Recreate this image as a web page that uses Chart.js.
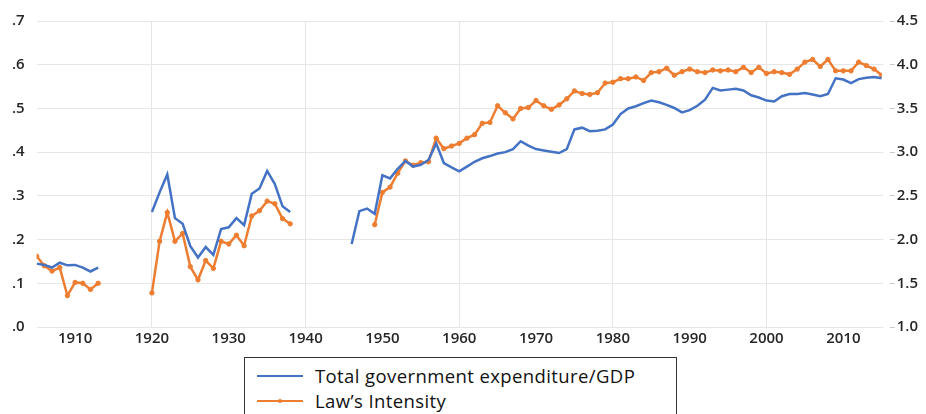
<!DOCTYPE html>
<html>
<head>
<meta charset="utf-8">
<script src="https://cdn.jsdelivr.net/npm/chart.js@4"></script>
<style>
  body { margin: 0; background: #fff; }
  #wrap { position: relative; width: 926px; height: 414px; overflow: hidden; }
  #chart { position: absolute; left: 0; top: 0; }
  #legend {
    position: absolute; left: 244px; top: 357px; width: 433px; height: 70px;
    border: 1px solid #333; box-sizing: border-box; background: #fff;
    font-family: "Open Sans", sans-serif; font-size: 18.5px; letter-spacing: 0.4px; color: #111;
  }
  .item { position: absolute; left: 12px; height: 25px; display: flex; align-items: center; }
  .item svg { margin-right: 12px; }
</style>
</head>
<body>
<div id="wrap">
  <canvas id="chart" width="926" height="351"></canvas>
  <div id="legend"></div>
</div>
<script>
const startYear = 1905;
const endYear = 2015;
const years = Array.from({ length: endYear - startYear + 1 }, (_, i) => startYear + i);
const xTicks = [1910, 1920, 1930, 1940, 1950, 1960, 1970, 1980, 1990, 2000, 2010];
const leftTicks = [0, 0.1, 0.2, 0.3, 0.4, 0.5, 0.6, 0.7];
const rightTicks = [1.0, 1.5, 2.0, 2.5, 3.0, 3.5, 4.0, 4.5];

// Total government expenditure / GDP (left axis), 1905-2015, null = no data
const govExpenditure = [
  0.145, 0.142, 0.136, 0.147, 0.141, 0.142, 0.136, 0.127, 0.136,            // 1905-1913
  null, null, null, null, null, null,                                        // 1914-1919
  0.263, 0.308, 0.349, 0.249, 0.236, 0.185, 0.159, 0.183, 0.165, 0.224,      // 1920-1929
  0.228, 0.249, 0.233, 0.305, 0.317, 0.357, 0.327, 0.276, 0.263,            // 1930-1938
  null, null, null, null, null, null, null,                                  // 1939-1945
  0.190, 0.265, 0.271, 0.259,                                                // 1946-1949
  0.347, 0.340, 0.362, 0.380, 0.367, 0.371, 0.382, 0.420, 0.375, 0.365,      // 1950s
  0.356, 0.367, 0.378, 0.386, 0.391, 0.397, 0.400, 0.407, 0.425, 0.415,      // 1960s
  0.407, 0.404, 0.401, 0.398, 0.407, 0.452, 0.456, 0.448, 0.449, 0.452,      // 1970s
  0.463, 0.487, 0.500, 0.505, 0.512, 0.518, 0.514, 0.508, 0.501, 0.491,      // 1980s
  0.496, 0.506, 0.520, 0.547, 0.541, 0.543, 0.545, 0.541, 0.530, 0.525,      // 1990s
  0.518, 0.516, 0.528, 0.533, 0.533, 0.535, 0.532, 0.528, 0.533, 0.569,      // 2000s
  0.566, 0.558, 0.567, 0.570, 0.572, 0.569                                   // 2010-2015
];

// Law's Intensity (right axis), 1905-2015, null = no data
const lawIntensity = [
  1.81, 1.70, 1.64, 1.68, 1.36, 1.51, 1.50, 1.43, 1.50,                      // 1905-1913
  null, null, null, null, null, null,                                        // 1914-1919
  1.39, 1.98, 2.31, 1.98, 2.07, 1.69, 1.54, 1.76, 1.67, 1.98,                // 1920-1929
  1.95, 2.05, 1.93, 2.27, 2.33, 2.44, 2.41, 2.24, 2.18,                      // 1930-1938
  null, null, null, null, null, null, null, null, null, null,                // 1939-1948
  2.17,                                                                      // 1949
  2.54, 2.60, 2.76, 2.90, 2.85, 2.88, 2.89, 3.16, 3.04, 3.07,                // 1950s
  3.10, 3.16, 3.20, 3.33, 3.34, 3.53, 3.45, 3.38, 3.50, 3.51,                // 1960s
  3.59, 3.53, 3.49, 3.54, 3.61, 3.70, 3.67, 3.66, 3.68, 3.79,                // 1970s
  3.80, 3.84, 3.84, 3.86, 3.82, 3.91, 3.92, 3.96, 3.88, 3.92,                // 1980s
  3.95, 3.92, 3.91, 3.94, 3.93, 3.94, 3.92, 3.97, 3.91, 3.97,                // 1990s
  3.90, 3.92, 3.91, 3.89, 3.95, 4.03, 4.06, 3.98, 4.06, 3.93,                // 2000s
  3.93, 3.93, 4.03, 3.99, 3.95, 3.88                                         // 2010-2015
];

const blue = "#4472c4";
const orange = "#ed7d31";
const tickFont = { family: "'Open Sans', sans-serif", size: 15, weight: "600" };
const tickColor = "#262626";

const ctx = document.getElementById("chart").getContext("2d");

new Chart(ctx, {
  type: "line",
  data: {
    datasets: [
      {
        label: "Total government expenditure/GDP",
        data: years.map((y, i) => ({ x: y, y: govExpenditure[i] })),
        yAxisID: "y",
        borderColor: blue,
        borderWidth: 2.5,
        pointRadius: 0,
        spanGaps: false,
        tension: 0,
      },
      {
        label: "Law\u2019s Intensity",
        data: years.map((y, i) => ({ x: y, y: lawIntensity[i] })),
        yAxisID: "y2",
        borderColor: orange,
        backgroundColor: orange,
        borderWidth: 2.5,
        pointRadius: 2.2,
        pointBorderWidth: 1,
        pointBorderColor: orange,
        spanGaps: false,
        tension: 0,
      },
    ],
  },
  options: {
    responsive: false,
    animation: false,
    layout: { padding: { top: 4, left: 0, right: 6, bottom: 0 } },
    plugins: {
      legend: { display: false },
      tooltip: { enabled: false },
    },
    scales: {
      x: {
        type: "linear",
        min: startYear,
        max: endYear,
        afterBuildTicks: (axis) => {
          axis.ticks = xTicks.map((v) => ({ value: v }));
        },
        border: { display: false },
        grid: {
          color: (c) => (c.tick && c.tick.value % 20 === 0 ? "#e6e6e6" : "rgba(0,0,0,0)"),
          drawTicks: false,
        },
        ticks: {
          font: tickFont,
          color: tickColor,
          padding: 3,
          maxRotation: 0,
          autoSkip: false,
          callback: (v) => String(v),
        },
      },
      y: {
        position: "left",
        min: 0,
        max: 0.7,
        afterBuildTicks: (axis) => {
          axis.ticks = leftTicks.map((v) => ({ value: v }));
        },
        border: { display: false },
        grid: { color: "#e6e6e6", drawTicks: false },
        ticks: {
          font: tickFont,
          color: tickColor,
          padding: 12,
          callback: (v) => "." + Math.round(v * 10),
        },
      },
      y2: {
        position: "right",
        min: 1,
        max: 4.5,
        afterBuildTicks: (axis) => {
          axis.ticks = rightTicks.map((v) => ({ value: v }));
        },
        border: { display: false },
        grid: { drawOnChartArea: false, drawTicks: true, tickLength: 13, color: "#c8c8c8" },
        ticks: {
          font: tickFont,
          color: tickColor,
          padding: 2,
          callback: (v) => v.toFixed(1),
        },
      },
    },
  },
  plugins: [
    {
      id: "tickGap",
      // blank the inner part of the right tick marks so they float like the original
      afterDraw(chart) {
        const area = chart.chartArea;
        const c = chart.ctx;
        c.save();
        c.fillStyle = "#fff";
        c.fillRect(area.right + 1, area.top - 6, 7, area.bottom - area.top + 12);
        c.restore();
      },
    },
  ],
});

// legend built from the series
const legendItems = [
  { label: "Total government expenditure/GDP", color: blue, dot: false },
  { label: "Law\u2019s Intensity", color: orange, dot: true },
];
const legend = document.getElementById("legend");
legend.innerHTML = legendItems
  .map((item, i) => {
    const dot = item.dot ? `<circle cx="23" cy="6" r="2" fill="${item.color}"/>` : "";
    return `
      <div class="item" style="top:${5 + i * 25}px">
        <svg width="46" height="12"><line x1="0" y1="6" x2="46" y2="6" stroke="${item.color}" stroke-width="2"/>${dot}</svg>
        <span>${item.label}</span>
      </div>`;
  })
  .join("");
</script>
</body>
</html>
